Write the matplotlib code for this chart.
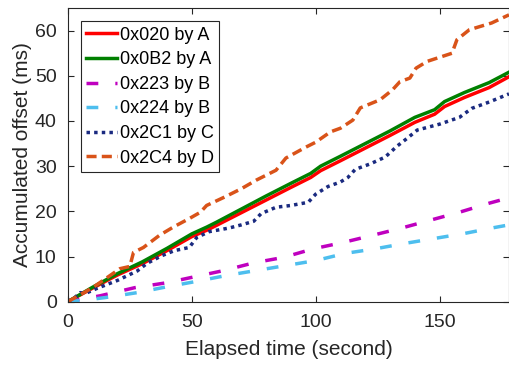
import numpy as np
import matplotlib.pyplot as plt

plt.rcParams['font.family'] = ['Liberation Sans', 'DejaVu Sans']

# values
x_020 = [0, 10, 20, 30, 40, 50, 56, 60, 70, 80, 90, 98, 102, 110, 120, 130, 140, 148, 152, 160, 170, 178]
y_020 = [0, 3.0, 5.9, 8.4, 11.3, 14.4, 15.8, 16.9, 19.7, 22.5, 25.3, 27.5, 29.0, 31.2, 34.0, 36.8, 39.7, 41.5, 43.2, 45.2, 47.4, 49.8]

x_0b2 = [0, 10, 20, 30, 40, 50, 56, 60, 70, 80, 90, 98, 102, 110, 120, 130, 140, 148, 152, 160, 170, 178]
y_0b2 = [0, 3.2, 6.2, 8.8, 11.8, 15.0, 16.5, 17.6, 20.5, 23.4, 26.2, 28.4, 30.0, 32.2, 35.0, 37.8, 40.8, 42.5, 44.3, 46.3, 48.5, 50.8]

x_223 = [0, 13, 27, 40, 51, 63, 75, 87, 99, 111, 123, 134, 146, 158, 170, 178]
y_223 = [0, 1.3, 3.1, 4.2, 5.5, 6.9, 8.6, 9.8, 11.7, 13.1, 14.7, 16.2, 18.0, 19.8, 21.8, 23.0]

x_224 = [0, 6, 15, 28, 40, 51, 64, 76, 88, 100, 112, 124, 136, 148, 160, 172, 178]
y_224 = [0, 0.3, 0.9, 2.0, 3.3, 4.4, 5.8, 6.9, 8.0, 9.1, 10.7, 11.7, 12.9, 14.0, 15.1, 16.4, 17.0]

x_2c1 = [0, 3, 5, 7, 12, 20, 28, 32, 38, 43, 49, 52, 57, 65, 70, 75, 78, 84, 90, 97, 100, 105, 110, 113,
         116, 122, 128, 133, 137, 141, 150, 158, 163, 170, 178]
y_2c1 = [0, 1.0, 2.0, 1.8, 3.0, 4.7, 6.8, 8.5, 10.2, 11.3, 12.0, 14.2, 15.5, 16.3, 17.0, 17.8, 19.5, 20.9, 21.3, 22.0,
         23.8, 25.5, 26.5, 27.5, 29.3, 30.5, 32.0, 34.5, 36.2, 38.0, 39.3, 40.8, 42.8, 44.2, 46.0]

x_2c4 = [0, 10, 21, 25, 26.5, 30.5, 37, 42.5, 49, 53.5, 56, 63, 70, 76, 84, 88, 96, 100, 106, 110, 115, 118,
         126, 131, 134, 138, 140.5, 145, 155, 157, 162, 171, 178]
y_2c4 = [0, 3.1, 7.3, 7.8, 10.9, 12.0, 14.7, 16.5, 18.4, 19.8, 21.3, 23.1, 25.0, 26.9, 29.1, 31.8, 34.2, 35.3, 37.6,
         38.4, 40.2, 42.9, 44.7, 46.9, 48.7, 49.5, 51.7, 53.2, 55.0, 58.0, 60.2, 61.7, 63.5]

labels = ['0x020 by A', '0x0B2 by A', '0x223 by B', '0x224 by B', '0x2C1 by C', '0x2C4 by D']

fig = plt.figure(figsize=(5.10, 3.67), dpi=100)
ax = fig.add_axes([0.133, 0.178, 0.865, 0.800])

lw = 2.5
ax.plot(x_020, y_020, color='#FF0000', lw=lw, label=labels[0])
ax.plot(x_0b2, y_0b2, color='#008000', lw=lw, label=labels[1])
ax.plot(x_223, y_223, color='#BF00BF', lw=lw, dashes=(3.4, 4.9), label=labels[2])
ax.plot(x_224, y_224, color='#4DBEEE', lw=lw, dashes=(3.4, 4.9), label=labels[3])
ax.plot(x_2c1, y_2c1, color='#1A2A80', lw=lw, dashes=(1.0, 1.2), label=labels[4])
ax.plot(x_2c4, y_2c4, color='#D95319', lw=lw, dashes=(2.9, 1.5), label=labels[5])

ax.set_xlim(0, 178)
ax.set_ylim(0, 65)
ax.set_xticks([0, 50, 100, 150])
ax.set_yticks([0, 10, 20, 30, 40, 50, 60])

tc = '#262626'
for s in ax.spines.values():
    s.set_color(tc)
    s.set_linewidth(0.8)
ax.tick_params(direction='in', top=True, right=True, labelsize=14, colors=tc, length=4)
ax.tick_params(axis='x', pad=9)
ax.tick_params(axis='y', pad=8)
ax.set_xlabel('Elapsed time (second)', fontsize=15, color=tc, labelpad=6)
ax.set_ylabel('Accumulated offset (ms)', fontsize=15, color=tc, labelpad=2)

leg = ax.legend(loc='upper left', fontsize=13, handlelength=1.7, handletextpad=0.15,
                labelspacing=0.42, borderpad=0.3, fancybox=False, framealpha=1,
                bbox_to_anchor=(0.03, 0.955), borderaxespad=0)
leg.get_frame().set_edgecolor(tc)
leg.get_frame().set_linewidth(0.8)

fig.savefig('out.png', dpi=100)
